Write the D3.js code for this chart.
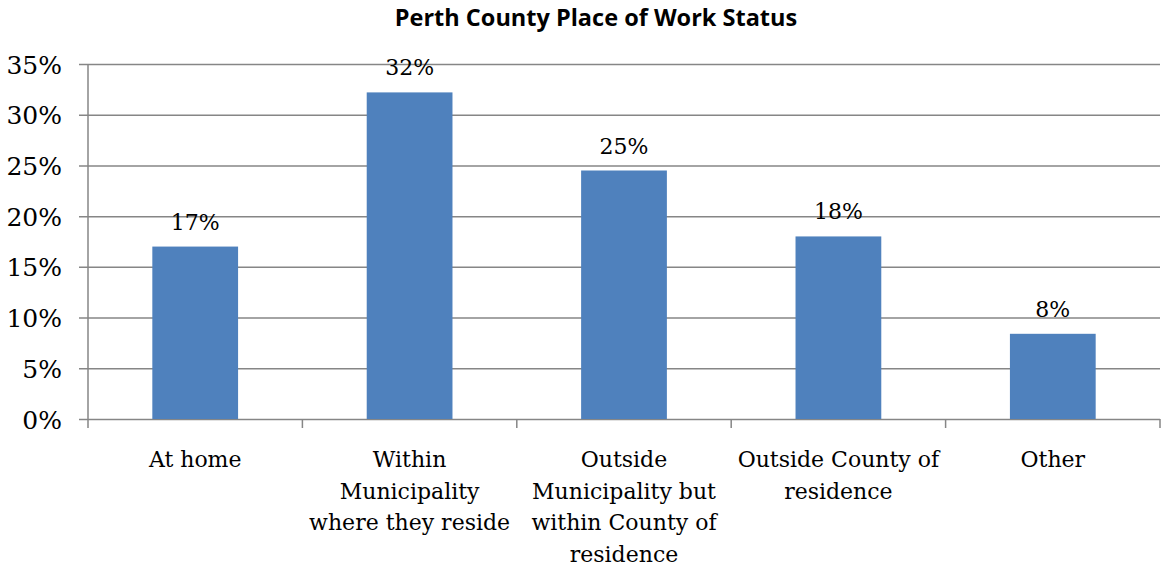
<!DOCTYPE html>
<html>
<head>
<meta charset="utf-8">
<script src="https://cdn.jsdelivr.net/npm/d3@7"></script>
<style>
  body { margin: 0; background: #fff; }
  .tick text, .bar-label, .cat-label { font-family: "DejaVu Serif", serif; fill: #000; }
</style>
</head>
<body>
<div id="chart"></div>
<script>
// chart data
var categories = ["At home", "Within Municipality where they reside",
  "Outside Municipality but within County of residence",
  "Outside County of residence", "Other"];
var shares = [17.0, 32.2, 24.5, 18.0, 8.4];
var barLabels = ["17%", "32%", "25%", "18%", "8%"];
var yTicks = [0, 5, 10, 15, 20, 25, 30, 35];

var svgWidth = 1162;
var svgHeight = 567;
var margin = { top: 64, right: 2, bottom: 148, left: 88 };
var width = svgWidth - margin.left - margin.right;
var height = svgHeight - margin.top - margin.bottom;

var svg = d3.select("#chart").append("svg")
  .attr("width", svgWidth)
  .attr("height", svgHeight);

svg.append("text")
  .attr("x", 596)
  .attr("y", 26)
  .attr("text-anchor", "middle")
  .style("font-family", "'Open Sans', sans-serif")
  .style("font-weight", "bold")
  .style("font-size", "23.5px")
  .text("Perth County Place of Work Status");

var chartGroup = svg.append("g")
  .attr("transform", `translate(${margin.left}, ${margin.top})`);

var xScale = d3.scaleBand()
  .domain(categories)
  .range([0, width])
  .paddingInner(0.6)
  .paddingOuter(0.3);

var yScale = d3.scaleLinear()
  .domain([0, 35])
  .range([height, 0]);

// gridlines + y axis
var leftAxis = d3.axisLeft(yScale)
  .tickValues(yTicks)
  .tickFormat(d => d + "%")
  .tickSize(-width)
  .tickPadding(26);

var yAxis = chartGroup.append("g").call(leftAxis);
yAxis.select(".domain").remove();
yAxis.selectAll(".tick line")
  .attr("x1", -9)
  .attr("stroke", "#868686")
  .attr("stroke-width", 1.5);
yAxis.selectAll(".tick text")
  .style("font-size", "25px")
  .attr("dy", "0.36em");

chartGroup.append("line")
  .attr("x1", 0).attr("x2", 0)
  .attr("y1", 0).attr("y2", height + 9)
  .attr("stroke", "#868686")
  .attr("stroke-width", 1.5);

// x axis category separators
var step = width / categories.length;
chartGroup.selectAll(".sep")
  .data(d3.range(1, categories.length + 1))
  .enter()
  .append("line")
  .attr("x1", d => d * step).attr("x2", d => d * step)
  .attr("y1", height).attr("y2", height + 9)
  .attr("stroke", "#868686")
  .attr("stroke-width", 1.5);

// bars
chartGroup.selectAll("rect")
  .data(categories)
  .enter()
  .append("rect")
  .attr("x", d => xScale(d))
  .attr("y", (d, i) => yScale(shares[i]))
  .attr("width", xScale.bandwidth())
  .attr("height", (d, i) => height - yScale(shares[i]))
  .attr("fill", "#4F81BD");

chartGroup.selectAll(".bar-label")
  .data(categories)
  .enter()
  .append("text")
  .classed("bar-label", true)
  .attr("x", d => xScale(d) + xScale.bandwidth() / 2)
  .attr("y", (d, i) => yScale(shares[i]) - 17)
  .attr("text-anchor", "middle")
  .style("font-size", "22px")
  .text((d, i) => barLabels[i]);

// category labels, wrapped to band width
var catGroup = chartGroup.selectAll(".cat-label")
  .data(categories)
  .enter()
  .append("text")
  .classed("cat-label", true)
  .attr("x", d => xScale(d) + xScale.bandwidth() / 2)
  .attr("y", height + 48)
  .attr("text-anchor", "middle")
  .style("font-size", "22px")
  .each(function(d) {
    var text = d3.select(this);
    var words = d.split(" ");
    var lines = [];
    var line = [];
    var tspan = text.append("tspan");
    words.forEach(function(w) {
      line.push(w);
      tspan.text(line.join(" "));
      if (tspan.node().getComputedTextLength() > step - 4 && line.length > 1) {
        line.pop();
        lines.push(line.join(" "));
        line = [w];
      }
    });
    lines.push(line.join(" "));
    tspan.remove();
    lines.forEach(function(l, i) {
      text.append("tspan")
        .attr("x", xScale(d) + xScale.bandwidth() / 2)
        .attr("dy", i === 0 ? 0 : 31.7)
        .text(l);
    });
  });
</script>
</body>
</html>
